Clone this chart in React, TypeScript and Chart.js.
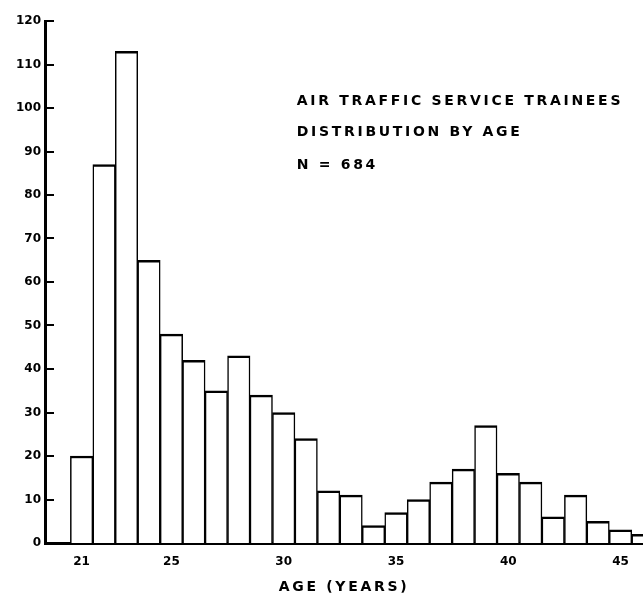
import { useEffect, useRef } from 'react';
import { Chart, registerables } from 'chart.js';

Chart.register(...registerables);

// Age bins (years) and number of trainees in each bin
const ages = [21, 22, 23, 24, 25, 26, 27, 28, 29, 30, 31, 32, 33, 34, 35, 36, 37, 38, 39, 40, 41, 42, 43, 44, 45, 46];
const counts = [20, 87, 113, 65, 48, 42, 35, 43, 34, 30, 24, 12, 11, 4, 7, 10, 14, 17, 27, 16, 14, 6, 11, 5, 3, 2];

const yTicks = [0, 10, 20, 30, 40, 50, 60, 70, 80, 90, 100, 110, 120];
const xTicks = [21, 25, 30, 35, 40, 45];

const titleLines = ['AIR TRAFFIC SERVICE TRAINEES', 'DISTRIBUTION BY AGE', 'N = 684'];
const xAxisTitle = 'AGE (YEARS)';

const FONT = '"DejaVu Sans", "Liberation Sans", sans-serif';

const decorPlugin = {
  id: 'decor',
  afterDraw(chart: any) {
    const { ctx, chartArea } = chart;
    const x = chart.scales.x;
    const y = chart.scales.y;
    ctx.save();
    // inward tick marks on the y axis
    ctx.strokeStyle = '#000';
    ctx.lineWidth = 2;
    ctx.lineCap = 'butt';
    for (const v of yTicks) {
      if (v === 0) continue;
      const py = Math.round(y.getPixelForValue(v));
      ctx.beginPath();
      ctx.moveTo(chartArea.left, py);
      ctx.lineTo(chartArea.left + 9, py);
      ctx.stroke();
    }
    // annotation block
    ctx.fillStyle = '#000';
    ctx.font = `bold 14px ${FONT}`;
    (ctx as any).letterSpacing = '2.7px';
    ctx.textAlign = 'left';
    ctx.textBaseline = 'middle';
    const textX = x.getPixelForValue(30.58);
    const lineVals = [101.6, 94.3, 86.9];
    titleLines.forEach((t, i) => {
      ctx.fillText(t, textX, y.getPixelForValue(lineVals[i]));
    });
    // x axis title
    ctx.textAlign = 'center';
    ctx.fillText(xAxisTitle, (chartArea.left + chartArea.right) / 2, chart.height - 7.5);
    ctx.restore();
  },
};

export default function App() {
  const ref = useRef<HTMLCanvasElement>(null);

  useEffect(() => {
    document.body.style.margin = '0';
    const canvas = ref.current!;
    const chart = new Chart(canvas, {
      type: 'bar',
      data: {
        datasets: [
          {
            data: ages.map((a, i) => ({ x: a, y: counts[i] })),
            backgroundColor: '#fff',
            borderColor: '#000',
            borderWidth: { top: 2.5, left: 1.5, right: 1.5, bottom: 0 },
            borderSkipped: 'start',
            barPercentage: 1,
            categoryPercentage: 1,
          },
        ],
      },
      plugins: [decorPlugin],
      options: {
        animation: false,
        responsive: false,
        devicePixelRatio: 1,
        layout: { padding: { top: 21, left: 0, right: 0, bottom: 0 } },
        plugins: {
          legend: { display: false },
          tooltip: { enabled: false },
          title: { display: false },
        },
        scales: {
          x: {
            type: 'linear',
            min: 19.37,
            max: 46.0,
            offset: false,
            grid: { display: false, drawTicks: false, offset: false },
            border: { display: true, color: '#000', width: 3 },
            afterBuildTicks: (s: any) => {
              s.ticks = xTicks.map((v) => ({ value: v }));
            },
            ticks: {
              color: '#000',
              font: { family: FONT, weight: 'bold', size: 12 },
              padding: 12,
              maxRotation: 0,
              autoSkip: false,
            },
            afterFit: (s: any) => {
              s.height = 52;
            },
          },
          y: {
            min: 0,
            max: 120,
            grid: { display: false, drawTicks: false },
            border: { display: true, color: '#000', width: 3 },
            afterBuildTicks: (s: any) => {
              s.ticks = yTicks.map((v) => ({ value: v }));
            },
            ticks: {
              color: '#000',
              font: { family: FONT, weight: 'bold', size: 12 },
              padding: 4,
            },
            afterFit: (s: any) => {
              s.width = 45;
            },
          },
        },
      } as any,
    });
    return () => chart.destroy();
  }, []);

  return (
    <div style={{ width: 643, height: 595 }}>
      <canvas ref={ref} width={643} height={595} style={{ display: 'block' }} />
    </div>
  );
}
